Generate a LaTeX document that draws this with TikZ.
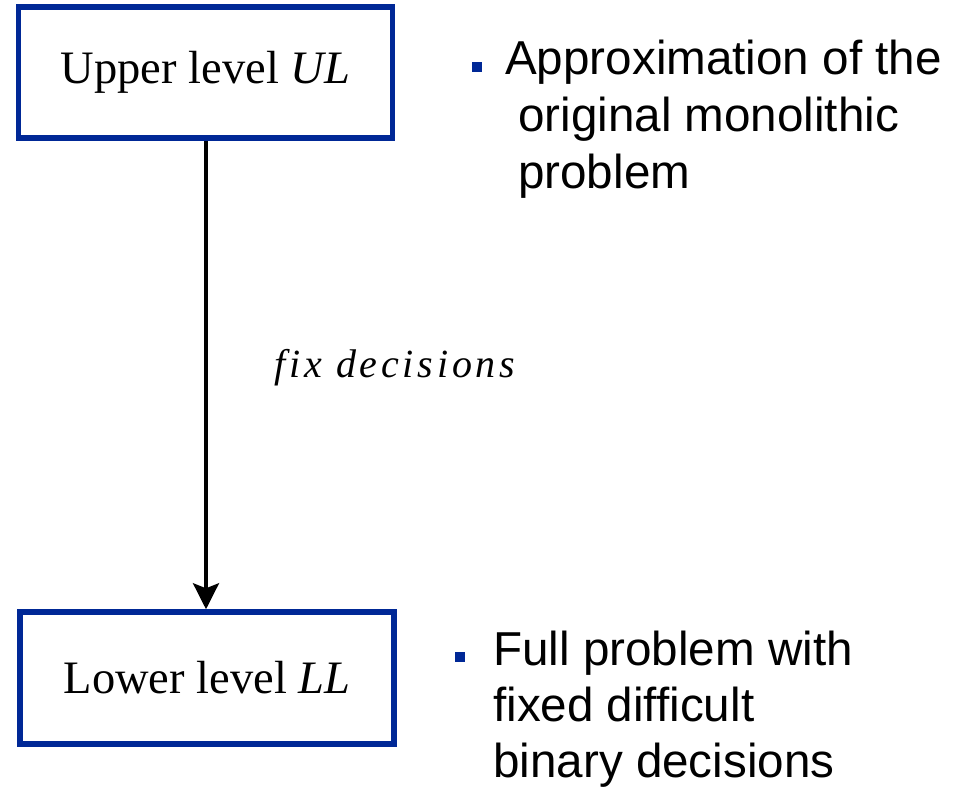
\documentclass[tikz,border=0pt]{standalone}
\usepackage{fontspec}
\setmainfont{Liberation Serif}
\setsansfont{Liberation Sans}
\usetikzlibrary{arrows.meta}
\definecolor{levelblue}{RGB}{0,40,150}
\tikzset{
  levelbox/.style={draw=levelblue, line width=5.5pt, minimum width=374pt,
    inner sep=0pt, font=\fontsize{46.5}{52}\selectfont},
  bulletsq/.style={fill=levelblue, draw=none, minimum size=10.5pt, inner sep=0pt},
  bullettext/.style={anchor=base west, inner sep=0pt, font=\sffamily\fontsize{47.6}{57}\selectfont},
  flowarrow/.style={line width=3.4pt, -{Stealth[length=26pt,width=26pt,inset=5pt]}},
}
\begin{document}
\begin{tikzpicture}[x=1pt,y=-1pt]
  \useasboundingbox (0,0) rectangle (953,791);

  % the two levels
  \node[levelbox, minimum height=131pt] (upper) at (205.5,72.5) {Upper level \textit{UL}};
  \node[levelbox, minimum height=132pt] (lower) at (207,678) {Lower level \textit{LL}};

  % fixing decisions from the upper to the lower level
  \coordinate (tip) at (lower.north -| 206,0);
  \draw[flowarrow] (upper.south -| tip) -- (tip);
  \node[font={\addfontfeatures{LetterSpace=9.5}\itshape\fontsize{40}{44}\selectfont}] (fix) at (395,368) {fix decisions};

  % remarks on the upper level
  \node[bulletsq] (b1) at (477,67) {};
  \node[bullettext] (t1a) at (505,75) {Approximation of the};
  \node[bullettext] (t1b) at (518,132) {original monolithic};
  \node[bullettext] (t1c) at (518,189) {problem};

  % remarks on the lower level
  \node[bulletsq] (b2) at (460,657) {};
  \node[bullettext] (t2a) at (493,665) {Full problem with};
  \node[bullettext] (t2b) at (493,721) {fixed difficult};
  \node[bullettext] (t2c) at (493,777) {binary decisions};
\end{tikzpicture}
\end{document}
